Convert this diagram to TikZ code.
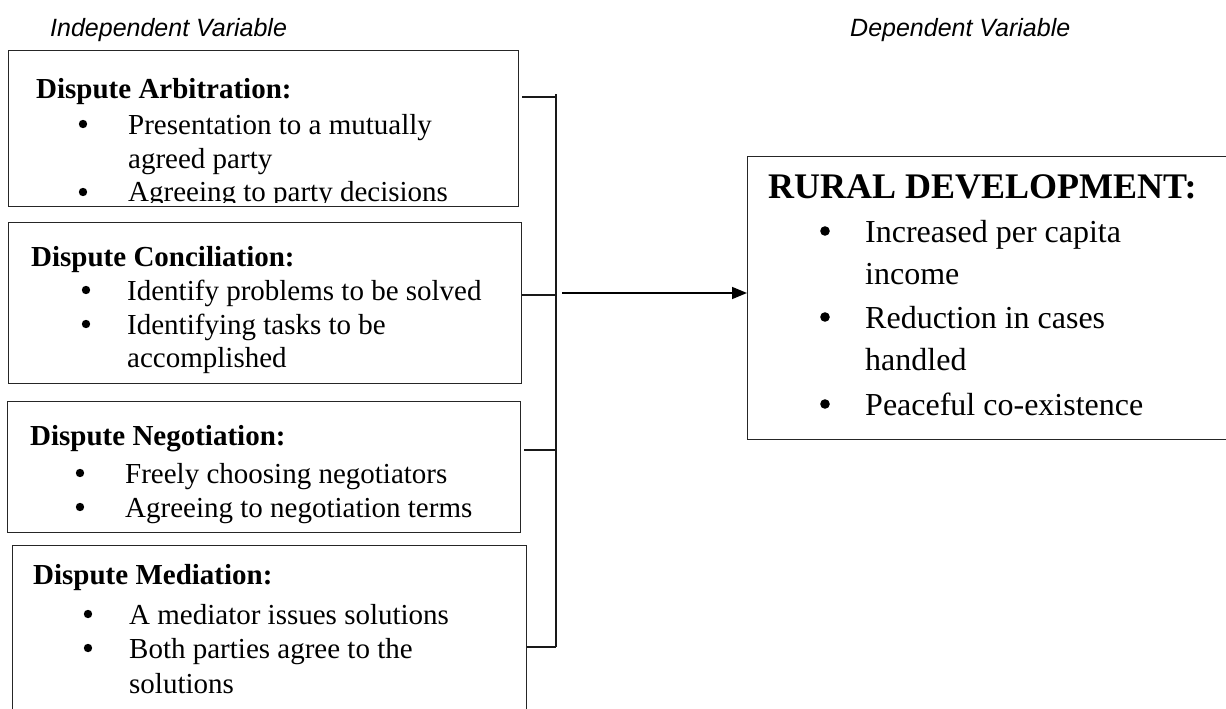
\documentclass[tikz,border=0pt]{standalone}
\usepackage{fontspec}
\setmainfont{Liberation Serif}
\newfontfamily\arialfont{Liberation Sans}
\usetikzlibrary{arrows.meta}
\begin{document}
\begin{tikzpicture}[x=1pt,y=-1pt,
  boxframe/.style={draw=black!85,line width=1.4pt,anchor=north west,inner sep=0pt},
  varlabel/.style={anchor=base west,inner sep=0pt,font=\arialfont\itshape\fontsize{25}{30}\selectfont},
  lhead/.style={anchor=base west,inner sep=0pt,font=\fontsize{29}{34}\selectfont\bfseries},
  litem/.style={anchor=base west,inner sep=0pt,font=\fontsize{29}{34}\selectfont},
  rhead/.style={anchor=base west,inner sep=0pt,font=\fontsize{36}{40}\selectfont\bfseries},
  ritem/.style={anchor=base west,inner sep=0pt,font=\fontsize{32}{38}\selectfont},
  link/.style={draw=black!90,line width=1.3pt},
  flow/.style={draw=black,line width=1.6pt,-{Triangle[length=15pt,width=12pt]}}]
\useasboundingbox (0,0) rectangle (1226,709);

% headers
\node[varlabel] (iv) at (50,37) {Independent Variable};
\node[varlabel] (dv) at (850,37) {Dependent Variable};

% boxes
\node[boxframe,minimum width=510pt,minimum height=156pt] (b1) at (8,50) {};
\node[boxframe,minimum width=513pt,minimum height=161pt] (b2) at (8,222) {};
\node[boxframe,minimum width=513pt,minimum height=131pt] (b3) at (7,401) {};
\node[boxframe,minimum width=514pt,minimum height=180pt] (b4) at (12,545) {};
\node[boxframe,minimum width=490pt,minimum height=283pt] (rb) at (747,156) {};

% box 1 text
\node[lhead] (h1) at (36,98) {Dispute Arbitration:};
\fill (83,124) circle (4.2pt);
\node[litem] (t11) at (128,134) {Presentation to a mutually};
\node[litem] (t12) at (128,168) {agreed party};
\fill (83,192) circle (4.2pt);
\begin{scope}
  \clip (8,50) rectangle (518,202);
  \node[litem] (t13) at (128,201) {Agreeing to party decisions};
\end{scope}

% box 2 text
\node[lhead] (h2) at (31,266) {Dispute Conciliation:};
\fill (86,290) circle (4.2pt);
\node[litem] (t21) at (127,300) {Identify problems to be solved};
\fill (86,324) circle (4.2pt);
\node[litem] (t22) at (127,334) {Identifying tasks to be};
\node[litem] (t23) at (127,367) {accomplished};

% box 3 text
\node[lhead] (h3) at (30,445) {Dispute Negotiation:};
\fill (80,473) circle (4.2pt);
\node[litem] (t31) at (125,483) {Freely choosing negotiators};
\fill (80,507) circle (4.2pt);
\node[litem] (t32) at (125,517) {Agreeing to negotiation terms};

% box 4 text
\node[lhead] (h4) at (33,584) {Dispute Mediation:};
\fill (88,614) circle (4.2pt);
\node[litem] (t41) at (129,624) {A mediator issues solutions};
\fill (88,648) circle (4.2pt);
\node[litem] (t42) at (129,658) {Both parties agree to the};
\node[litem] (t43) at (129,693) {solutions};

% right box text
\node[rhead] (rh) at (768,198) {RURAL DEVELOPMENT:};
\fill (825,231) circle (4.8pt);
\node[ritem] (r1) at (865,242) {Increased per capita};
\node[ritem] (r2) at (865,284) {income};
\fill (825,317) circle (4.8pt);
\node[ritem] (r3) at (865,328) {Reduction in cases};
\node[ritem] (r4) at (865,370) {handled};
\fill (825,404) circle (4.8pt);
\node[ritem] (r5) at (865,415) {Peaceful co-existence};

% bracket
\coordinate (v1) at (556,94);
\coordinate (v4) at (556,647);
\coordinate (j1) at (556,97);
\coordinate (j2) at (556,295);
\coordinate (j3) at (556,450);
\coordinate (j4) at (556,647);
\coordinate (s1) at (522,97);
\coordinate (s2) at (522,295);
\coordinate (s3) at (524,450);
\coordinate (s4) at (527,647);
\draw[link] (v1) -- (v4);
\draw[link] (s1) -- (j1);
\draw[link] (s2) -- (j2);
\draw[link] (s3) -- (j3);
\draw[link] (s4) -- (j4);
\coordinate (a0) at (562,293);
\draw[flow] (a0) -- (rb.west |- a0);
\end{tikzpicture}
\end{document}
